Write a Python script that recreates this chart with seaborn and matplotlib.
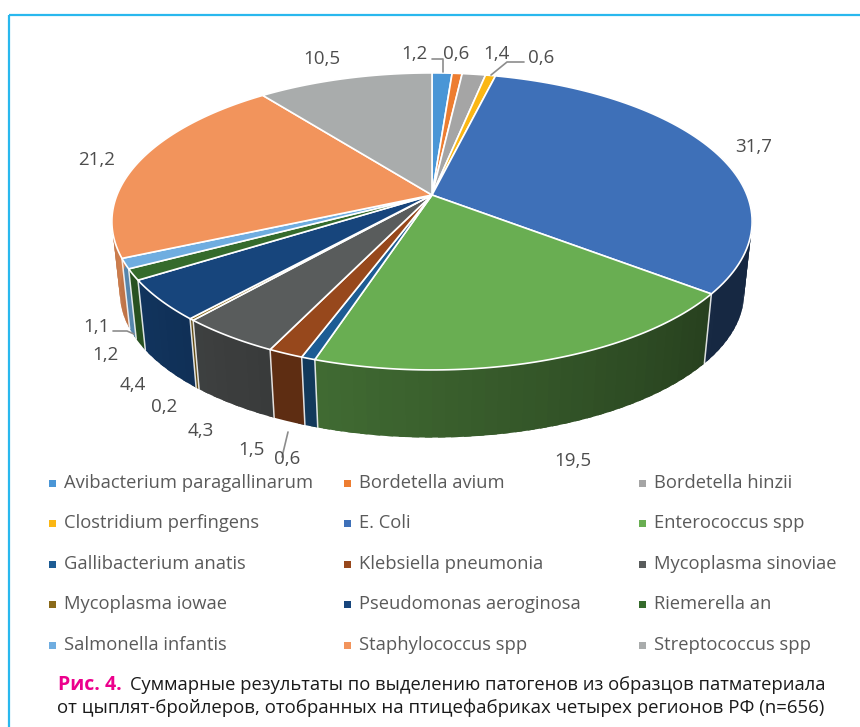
import numpy as np
import matplotlib.pyplot as plt
import matplotlib.colors as mcolors
from matplotlib.patches import Polygon, Rectangle
import seaborn as sns

names = ["Avibacterium paragallinarum", "Bordetella avium", "Bordetella hinzii",
         "Clostridium perfingens", "E. Coli", "Enterococcus spp",
         "Gallibacterium anatis", "Klebsiella pneumonia", "Mycoplasma sinoviae",
         "Mycoplasma iowae", "Pseudomonas aeroginosa", "Riemerella an",
         "Salmonella infantis", "Staphylococcus spp", "Streptococcus spp"]
values = [1.2, 0.6, 1.4, 0.6, 31.7, 19.5, 0.6, 1.5, 4.3, 0.2, 4.4, 1.2, 1.1, 21.2, 10.5]
colors = ["#4a96d6", "#ed7d31", "#a5a5a5", "#fbb714", "#3e70b8", "#69ae52",
          "#1d5c94", "#97481c", "#595c5c", "#8a6a1a", "#17457c", "#356b2c",
          "#6fade0", "#f2945c", "#a9acac"]
label_text = ["1,2", "0,6", "1,4", "0,6", "31,7", "19,5", "0,6", "1,5", "4,3",
              "0,2", "4,4", "1,2", "1,1", "21,2", "10,5"]
label_x = [414, 456, 496, 541, 754, 573, 287, 251, 201, 164, 133, 105, 96, 97, 322]
label_y = [54, 54, 54, 58, 147, 461, 459, 450, 431, 407, 385, 355, 327, 160, 59]
leaders = [([432, 443, 443], [59, 59, 72]),
           ([524, 507, 491], [62, 62, 75]),
           ([113, 127, 134], [331, 331, 334]),
           ([288, 282], [432, 457])]
caption_head = "Рис. 4."
caption_1 = "Суммарные результаты по выделению патогенов из образцов патматериала"
caption_2 = "от цыплят-бройлеров, отобранных на птицефабриках четырех регионов РФ (n=656)"

sns.set_theme(style="white")
plt.rcParams["font.family"] = ["Open Sans", "DejaVu Sans"]

CX, CY, RX, RY, K = 432, 195, 315, 143.8, 0.178
DROP, SHRINK = 72, 0.975


def rim(angle, bottom=False):
    # clockwise from 12 o'clock, squashed with a bit of perspective
    u, v = np.sin(angle), np.cos(angle)
    w = 1 + K * v
    x, y = RX * u / w, RY * v / w
    if bottom:
        return CX + SHRINK * x, CY + DROP - SHRINK * y
    return CX + x, CY - y


def shade(color, angle):
    # side wall goes from very dark on the right to nearly flat on the left
    f = np.clip(0.38 + (np.degrees(angle) - 130) * 0.0035, 0.36, 0.88)
    return tuple(np.array(mcolors.to_rgb(color)) * f)


fig = plt.figure(figsize=(8.6, 7.27), dpi=100)
ax = fig.add_axes([0, 0, 1, 1])
ax.set_xlim(0, 860)
ax.set_ylim(727, 0)
ax.axis("off")

ax.add_patch(Rectangle((8.5, 15), 900, 800, fill=False, ec="#29b8ee", lw=1.6))

edges = np.radians(np.cumsum([0] + values) * 3.6)

# side walls
for i, col in enumerate(colors):
    a0, a1 = edges[i], edges[i + 1]
    steps = np.linspace(a0, a1, max(2, int((a1 - a0) * 30)))
    for s0, s1 in zip(steps[:-1], steps[1:]):
        if np.cos((s0 + s1) / 2) > 0.3:
            continue
        t = np.linspace(s0, s1 + 0.02, 5)
        xt, yt = rim(t)
        xb, yb = rim(t[::-1], True)
        ax.add_patch(Polygon(np.c_[np.r_[xt, xb], np.r_[yt, yb]],
                             fc=shade(col, s0), ec="none", lw=0))
for i in range(len(colors)):
    if np.cos(edges[i]) < 0.1:
        xt, yt = rim(edges[i])
        xb, yb = rim(edges[i], True)
        ax.plot([xt, xb], [yt, yb], color="white", lw=1.1, alpha=0.85)

# top face
for i, col in enumerate(colors):
    t = np.linspace(edges[i], edges[i + 1], 80)
    x, y = rim(t)
    ax.add_patch(Polygon(np.c_[np.r_[CX, x], np.r_[CY, y]], fc=col, ec="white", lw=1.2))

for xs, ys in leaders:
    ax.plot(xs, ys, color="#8c8c8c", lw=1.2)

for t, x, y in zip(label_text, label_x, label_y):
    ax.text(x, y, t, ha="center", va="center", fontsize=13.5, color="#4d4d4d")

# legend
col_x = [52, 347, 642]
row_y = [483, 523, 564, 604, 645]
for i, (name, col) in enumerate(zip(names, colors)):
    x, y = col_x[i % 3], row_y[i // 3]
    ax.add_patch(Rectangle((x - 3.5, y - 3.5), 7, 7, fc=col, ec="none"))
    ax.text(x + 12, y, name, ha="left", va="center", fontsize=13.2, color="#5a5a5a")

ax.text(58, 685, caption_head, ha="left", va="center", fontsize=14,
        color="#ec008c", fontweight="bold")
ax.text(130, 685, caption_1, ha="left", va="center", fontsize=13.2, color="#1a1a1a")
ax.text(440.5, 708, caption_2, ha="center", va="center", fontsize=13.4, color="#1a1a1a")

fig.savefig("out.png", dpi=100, facecolor="white")
